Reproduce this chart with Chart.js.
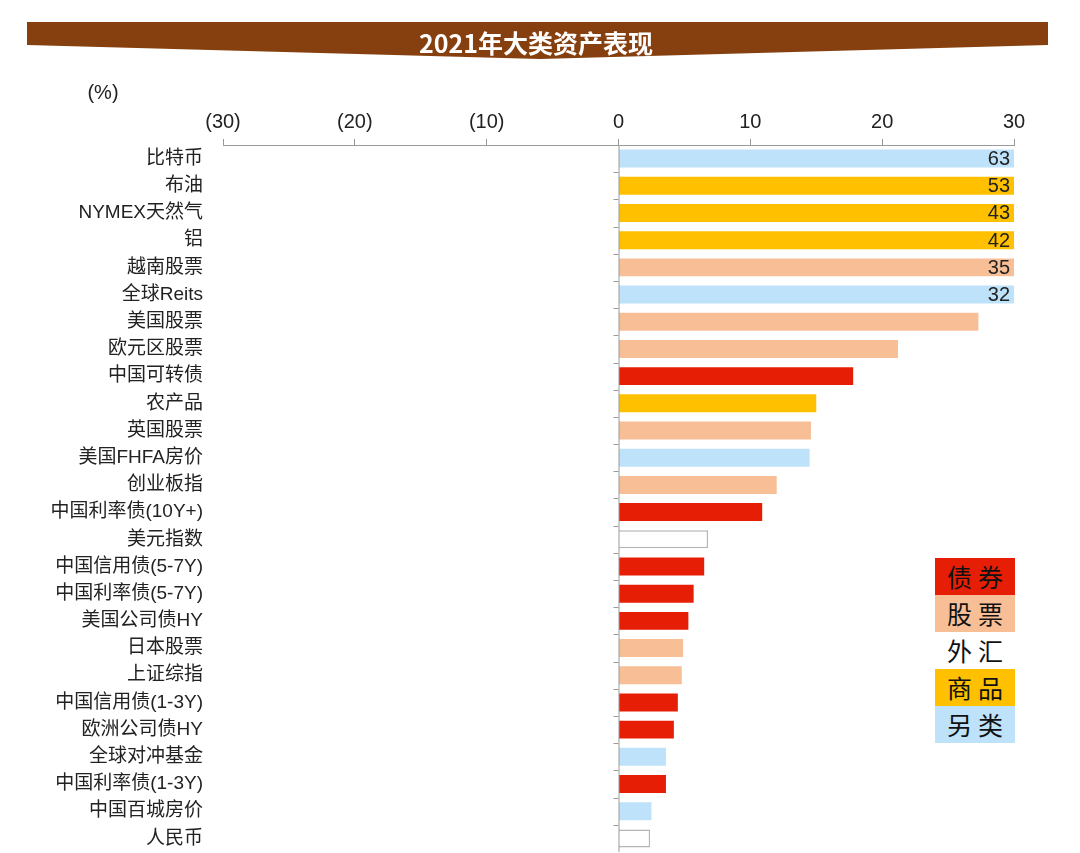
<!DOCTYPE html>
<html>
<head>
<meta charset="utf-8">
<script src="https://cdn.jsdelivr.net/npm/chart.js@4.4.0/dist/chart.umd.min.js"></script>
<style>
  html, body { margin: 0; padding: 0; background: #fff; }
  #wrap { position: relative; width: 1080px; height: 853px; }
  #legend { position: absolute; left: 935px; top: 558px; width: 80px; }
  #legend div { height: 37px; line-height: 37px; text-align: center; font: 25px "Noto Sans CJK SC", serif; color: #111; letter-spacing: 6px; padding-left: 6px; box-sizing: border-box; }
</style>
</head>
<body>
<div id="wrap">
  <canvas id="chart" width="1080" height="853"></canvas>
  <div id="legend"></div>
</div>
<script>
// data
const categories = ["比特币", "布油", "NYMEX天然气", "铝", "越南股票", "全球Reits", "美国股票", "欧元区股票",
  "中国可转债", "农产品", "英国股票", "美国FHFA房价", "创业板指", "中国利率债(10Y+)", "美元指数",
  "中国信用债(5-7Y)", "中国利率债(5-7Y)", "美国公司债HY", "日本股票", "上证综指", "中国信用债(1-3Y)",
  "欧洲公司债HY", "全球对冲基金", "中国利率债(1-3Y)", "中国百城房价", "人民币"];
const returns = [63, 53, 43, 42, 35, 32, 27.3, 21.2, 17.8, 15.0, 14.6, 14.5, 12.0, 10.9, 6.8,
  6.5, 5.7, 5.3, 4.9, 4.8, 4.5, 4.2, 3.6, 3.6, 2.5, 2.4];
const assetClass = ["另类", "商品", "商品", "商品", "股票", "另类", "股票", "股票", "债券", "商品", "股票", "另类",
  "股票", "债券", "外汇", "债券", "债券", "债券", "股票", "股票", "债券", "债券", "另类", "债券", "另类", "外汇"];
const classNames = ["债券", "股票", "外汇", "商品", "另类"];
const xTicks = [-30, -20, -10, 0, 10, 20, 30];

const classColor = { "债券": "#E61E06", "股票": "#F8BF97", "外汇": "#FFFFFF", "商品": "#FFC000", "另类": "#BEE2FA" };
const latin = '"Liberation Sans", "Noto Sans CJK SC", sans-serif';

// legend
const legend = document.getElementById("legend");
classNames.forEach(n => {
  const d = document.createElement("div");
  d.textContent = n;
  d.style.background = classColor[n];
  legend.appendChild(d);
});

// banner, (%) label, zero line and labels of clipped bars
const decorPlugin = {
  id: "decor",
  beforeDraw(chart) {
    const c = chart.ctx;
    c.save();
    c.fillStyle = "#86400F";
    c.beginPath();
    c.moveTo(27, 22);
    c.lineTo(1048, 22);
    c.lineTo(1048, 45);
    c.lineTo(540, 59);
    c.lineTo(27, 45);
    c.closePath();
    c.fill();
    c.fillStyle = "#fff";
    c.font = 'bold 25px "Noto Sans CJK SC", sans-serif';
    c.textAlign = "center";
    c.textBaseline = "middle";
    c.fillText("2021年大类资产表现", 536, 43);
    c.fillStyle = "#222";
    c.font = "20px " + latin;
    c.fillText("(%)", 103, 93);
    c.restore();
  },
  afterDatasetsDraw(chart) {
    const c = chart.ctx;
    const x = chart.scales.x, y = chart.scales.y;
    const zx = x.getPixelForValue(0);
    c.save();
    c.strokeStyle = "#9a9a9a";
    c.lineWidth = 1;
    c.beginPath();
    c.moveTo(zx + 0.5, chart.chartArea.top);
    c.lineTo(zx + 0.5, chart.chartArea.bottom);
    const step = (y.getPixelForValue(1) - y.getPixelForValue(0));
    for (let i = 1; i < categories.length; i++) {
      const yy = Math.round(y.getPixelForValue(i) - step / 2) + 0.5;
      c.moveTo(zx - 5, yy);
      c.lineTo(zx, yy);
    }
    c.stroke();
    c.fillStyle = "#222";
    c.font = "20px " + latin;
    c.textAlign = "right";
    c.textBaseline = "middle";
    returns.forEach((v, i) => {
      if (v > x.max) c.fillText(String(Math.round(v)), x.getPixelForValue(x.max) - 4, y.getPixelForValue(i) + 1);
    });
    c.restore();
  }
};

new Chart(document.getElementById("chart"), {
  type: "bar",
  data: {
    labels: categories,
    datasets: [{
      data: returns,
      backgroundColor: assetClass.map(k => classColor[k]),
      borderColor: assetClass.map(k => k === "外汇" ? "#b5b5b5" : classColor[k]),
      borderWidth: assetClass.map(k => k === "外汇" ? 1.5 : 0),
      borderSkipped: "left",
      categoryPercentage: 1,
      barPercentage: 0.66
    }]
  },
  options: {
    indexAxis: "y",
    responsive: false,
    animation: false,
    layout: { padding: { left: 0, right: 66, top: 0, bottom: 1 } },
    plugins: { legend: { display: false }, tooltip: { enabled: false } },
    scales: {
      x: {
        position: "top",
        min: -30,
        max: 30,
        afterBuildTicks: s => { s.ticks = xTicks.map(v => ({ value: v })); },
        afterFit: s => { s.height = 145; s.paddingLeft = 0; s.paddingRight = 0; },
        border: { display: true, color: "#9a9a9a" },
        grid: { drawOnChartArea: false, tickLength: 6, tickColor: "#9a9a9a" },
        ticks: {
          padding: 5,
          color: "#222",
          font: { family: latin, size: 20 },
          maxRotation: 0,
          callback: v => v < 0 ? "(" + Math.abs(v) + ")" : String(v)
        }
      },
      y: {
        afterFit: s => { s.width = 223; s.paddingTop = 0; s.paddingBottom = 0; },
        border: { display: false },
        grid: { display: false, drawTicks: false },
        ticks: {
          padding: 20,
          color: "#222",
          autoSkip: false,
          font: { family: latin, size: 19 }
        }
      }
    }
  },
  plugins: [decorPlugin]
});
</script>
</body>
</html>
